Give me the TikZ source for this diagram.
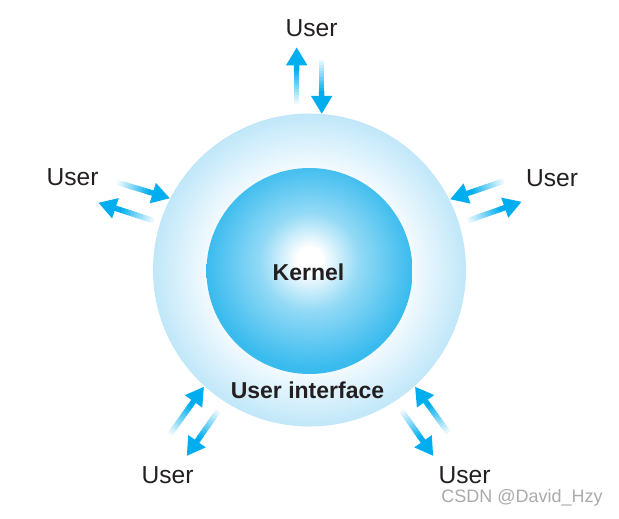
\documentclass[tikz,border=0pt]{standalone}
\usepackage{fontspec}
\setmainfont{Liberation Sans}
\usepackage{tikz}
\usetikzlibrary{arrows.meta,calc,positioning}
\definecolor{usercyan}{RGB}{0,174,239}
\definecolor{kernelblue}{RGB}{58,187,238}
\definecolor{shellblue}{RGB}{192,231,249}
\definecolor{ink}{RGB}{35,31,32}
\definecolor{mark}{RGB}{170,170,170}
\pgfdeclareradialshading{kernelshade}{\pgfpoint{0bp}{3bp}}{%
  color(0bp)=(white); color(3bp)=(white); color(12bp)=(kernelblue!55!white);
  color(25bp)=(kernelblue); color(50bp)=(kernelblue)}
\pgfdeclareradialshading{shellshade}{\pgfpointorigin}{%
  color(0bp)=(white); color(15bp)=(white); color(17bp)=(shellblue!25!white);
  color(25bp)=(shellblue); color(50bp)=(shellblue)}
\tikzset{
  flow/.style  = {line width=2.75pt, draw=usercyan},
  tip/.style   = {-{Triangle[length=9pt,width=10pt]}},
  user/.style  = {inner sep=0pt, text=ink, font=\fontsize{12.3}{14}\selectfont},
  layer/.style = {inner sep=0pt, text=ink, font=\bfseries\fontsize{11.5}{13}\selectfont},
}
% arrow whose tail fades out to white
\newcommand{\fadearrow}[2]{%
  \foreach \k in {0,...,11}{%
    \pgfmathsetmacro{\shadeval}{\k*8.3}
    \draw[flow, draw=usercyan!\shadeval!white]
      ($(#1)!{\k/20}!(#2)$) -- ($(#1)!{(\k+1.3)/20}!(#2)$);
  }
  \draw[flow, tip] ($(#1)!{12/20}!(#2)$) -- (#2);
}

\begin{document}
\begin{tikzpicture}[x=0.5pt,y=-0.5pt]
  \useasboundingbox (0,0) rectangle (619,518);
  \coordinate (O) at (309.5,270);
  \shade[shading=shellshade] (O) circle (156.5);
  \shade[shading=kernelshade] (309.5,271) circle (103);
  \node[layer] (kernel) at (308.5,272.5) {Kernel};
  \node[layer] (ui) at (307.5,390) {User interface};

  % users
  \node[user] (un)  at (311.5,28)  {User};
  \node[user] (uw)  at (72.5,177)  {User};
  \node[user] (ue)  at (552,178.5) {User};
  \node[user] (usw) at (167.5,475) {User};
  \node[user] (use) at (464.5,475) {User};

  % arrow end points
  \coordinate (n-out-a) at (296.7,107);   \coordinate (n-out-b) at (296.7,47.3);
  \coordinate (n-in-a)  at (321.7,56.7);  \coordinate (n-in-b)  at (321.7,114);
  \coordinate (w-in-a)  at (115,181.7);   \coordinate (w-in-b)  at (170,198.3);
  \coordinate (w-out-a) at (156.7,221.7); \coordinate (w-out-b) at (98.3,202.7);
  \coordinate (e-in-a)  at (506.7,180);   \coordinate (e-in-b)  at (450,199.3);
  \coordinate (e-out-a) at (465,221.7);   \coordinate (e-out-b) at (521.7,201.7);
  \coordinate (sw-in-a) at (168.3,436.7); \coordinate (sw-in-b) at (204,386.7);
  \coordinate (sw-out-a) at (220,408.3);  \coordinate (sw-out-b) at (186.7,456);
  \coordinate (se-in-a) at (450,435);     \coordinate (se-in-b) at (415,386.7);
  \coordinate (se-out-a) at (400,408.3);  \coordinate (se-out-b) at (433.3,456);

  \fadearrow{n-out-a}{n-out-b}
  \fadearrow{n-in-a}{n-in-b}
  \fadearrow{w-in-a}{w-in-b}
  \fadearrow{w-out-a}{w-out-b}
  \fadearrow{e-in-a}{e-in-b}
  \fadearrow{e-out-a}{e-out-b}
  \fadearrow{sw-in-a}{sw-in-b}
  \fadearrow{sw-out-a}{sw-out-b}
  \fadearrow{se-in-a}{se-in-b}
  \fadearrow{se-out-a}{se-out-b}

  \node[inner sep=0pt, text=mark, font=\fontsize{9}{11}\selectfont] (wm) at (522,498) {CSDN @David\_Hzy};
\end{tikzpicture}
\end{document}
